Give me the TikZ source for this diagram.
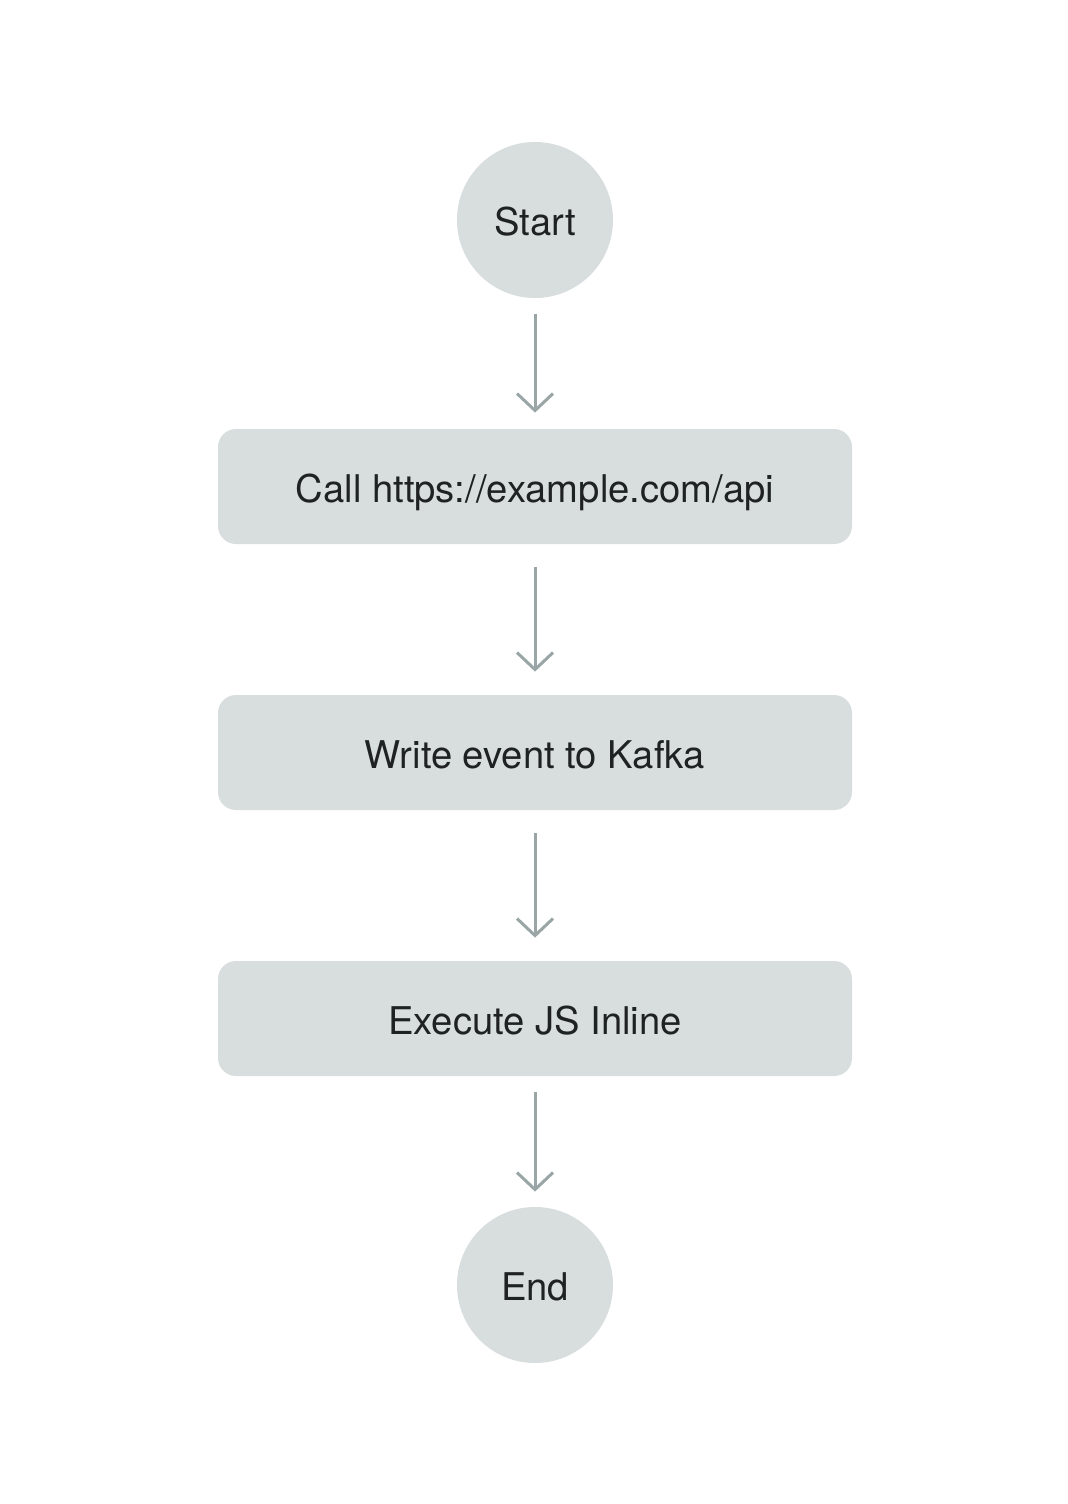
\documentclass[tikz,border=0pt]{standalone}
\usepackage{fontspec}
\setmainfont{TeX Gyre Heros}
\usetikzlibrary{arrows.meta}
\definecolor{shapefill}{HTML}{D8DDDD}
\definecolor{arrowcol}{HTML}{9AA5A6}
\definecolor{textcol}{HTML}{1F2222}
\begin{document}
\begin{tikzpicture}[x=0.5pt,y=-0.5pt,
  flowtext/.style={text=textcol,font=\fontsize{19.1pt}{22pt}\selectfont,text height=15.6pt,text depth=0pt},
  flowcircle/.style={circle,fill=shapefill,minimum size=78pt,inner sep=0pt,flowtext},
  flowbox/.style={rectangle,rounded corners=9pt,fill=shapefill,minimum width=317pt,minimum height=57.5pt,inner sep=0pt,flowtext},
  flowarrow/.style={draw=arrowcol,line width=1.5pt,-{Straight Barb[length=8.5pt,width=18pt,line width=1.5pt]}}]
\useasboundingbox[fill=white] (0,0) rectangle (1068,1504);
\node[flowcircle] (start) at (535,220) {Start};
\node[flowbox] (call) at (535,486.5) {Call https://example.com/api};
\node[flowbox] (kafka) at (535,752.5) {Write event to Kafka};
\node[flowbox] (js) at (535,1018.5) {Execute JS Inline};
\node[flowcircle] (end) at (535,1285) {End};
\draw[flowarrow] ([yshift=-8pt]start.south) -- ([yshift=8pt]call.north);
\draw[flowarrow] ([yshift=-11.5pt]call.south) -- ([yshift=11.5pt]kafka.north);
\draw[flowarrow] ([yshift=-11.5pt]kafka.south) -- ([yshift=11.5pt]js.north);
\draw[flowarrow] ([yshift=-8pt]js.south) -- ([yshift=7.5pt]end.north);
\end{tikzpicture}
\end{document}
